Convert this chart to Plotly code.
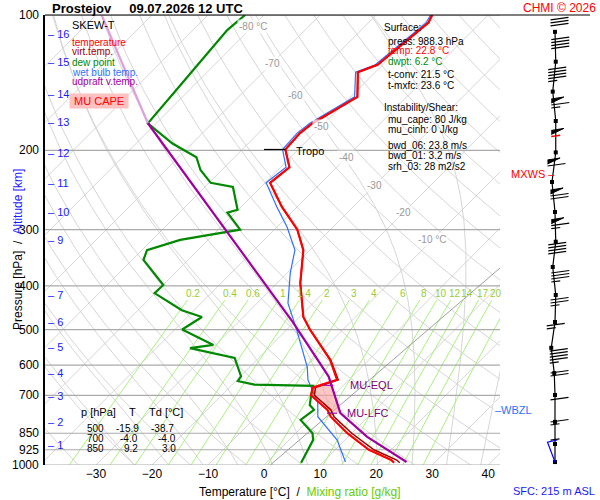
import numpy as np
import plotly.graph_objects as go

# ---------------- data ----------------
temp_p = [100, 104, 129, 134, 152, 165, 174, 183, 199, 218, 236, 267, 300, 333, 394, 469, 500, 584, 647, 673, 700, 754, 781, 850, 925, 975, 988.3]
temp_T = [-50.0, -49.3, -50.9, -53.1, -48.8, -50.8, -52.1, -52.6, -52.3, -48.4, -49.1, -42.7, -35.9, -31.2, -25.9, -19.3, -15.9, -6.9, -2.1, -5.1, -4.0, 1.5, 3.3, 9.2, 16.0, 21.8, 22.8]
virt_T = [-50.0, -49.3, -50.9, -53.1, -48.8, -50.8, -52.1, -52.6, -52.3, -48.4, -49.1, -42.7, -35.9, -31.2, -25.9, -19.3, -15.9, -6.8, -1.9, -4.6, -3.4, 2.1, 3.9, 10.0, 16.9, 22.8, 23.8]
dew_p = [100, 108, 142, 174, 193, 207, 221, 236, 241, 271, 275, 300, 316, 333, 350, 398, 415, 453, 469, 500, 541, 550, 578, 635, 651, 663, 667, 700, 736, 754, 794, 850, 880, 988.3]
dew_T = [-83.4, -83.9, -82.5, -81.5, -73.5, -66.8, -63.8, -59.7, -55.0, -50.1, -51.4, -46.1, -55.0, -59.1, -58.0, -50.0, -50.1, -42.2, -37.4, -38.7, -30.4, -34.0, -24.3, -19.9, -19.6, -16.0, -5.3, -4.0, -2.5, -0.9, -1.5, 3.0, 4.3, 6.2]
wet_p = [100, 104, 129, 134, 152, 165, 174, 183, 199, 218, 236, 267, 296, 333, 374, 437, 502, 606, 647, 727, 781, 880, 985]
wet_T = [-50.3, -49.7, -51.3, -53.5, -49.3, -51.3, -52.6, -53.1, -52.8, -49.0, -49.8, -43.6, -38.2, -32.7, -29.5, -24.5, -18.1, -9.7, -7.3, -1.5, 1.0, 8.6, 14.0]
parcel_p = [100, 174, 245, 333, 482, 636, 767, 866, 985]
parcel_T = [-109.0, -81.5, -60.9, -42.5, -20.2, -4.2, 4.4, 13.4, 24.9]
cape_p = [665, 700, 740, 767, 754, 720, 700, 680, 665]
cape_T = [-2.3, 0.1, 2.7, 4.4, 1.5, -1.0, -4.0, -4.8, -4.0]
ref_X = [1.1, 42.1]
ref_p = [1000, 365]

isobars = [100, 200, 300, 400, 500, 600, 700, 850, 925, 1000]
iso_label_T = [-80, -70, -60, -50, -40, -30, -20, -10]
iso_label_p = [106, 128, 151, 177, 207, 239, 275, 316]
mix_ratios = [0.2, 0.4, 0.6, 1, 1.4, 2, 3, 4, 6, 8, 10, 12, 14, 17, 20, 25]
mix_labels = ["0.2", "0.4", "0.6", "1", "1.4", "2", "3", "4", "6", "8", "10", "12", "14", "17", "20", "25"]
alt_km = [1, 2, 3, 4, 5, 6, 7, 8, 9, 10, 11, 12, 13, 14, 15, 16]
alt_p = [903, 802, 703, 625, 547, 481, 419, 363, 316, 274, 236, 203, 173, 150, 127, 110]
xticks = [-30, -20, -10, 0, 10, 20, 30, 40]

wind_p = [109, 127, 148, 172, 202, 235, 274, 319, 363, 419, 481, 549, 625, 699, 802, 898, 985]
wind_spd = [30, 40, 45, 65, 55, 60, 70, 65, 40, 35, 25, 15, 45, 20, 10, 15, 5]
wind_pos = [0.40, 0.41, 0.37, 0.41, 0.41, 0.36, 0.40, 0.41, 0.37, 0.41, 0.40, 0.35, 0.39, 0.40, 0.40, 0.40, 0.40]

SKEW = 80.0


def X(T, p):
    return np.asarray(T, float) + SKEW * np.log10(1000.0 / np.asarray(p, float))


W, H = 600, 500
L, R, T_, B = 45, 0, 15, 35
PW, PH = W - L - R, H - T_ - B


def px(x):
    return (x - L) / PW


def py(y):
    return (H - B - y) / PH


fig = go.Figure()
LG = "#d6d6d6"

# isotherms
segx, segy = [], []
for t in range(-130, 50, 10):
    pp = np.array([100, 1050])
    segx += list(X(t, pp)) + [None]
    segy += list(pp) + [None]
fig.add_trace(go.Scatter(x=segx, y=segy, mode="lines", line=dict(color=LG, width=1), hoverinfo="skip"))

# dry adiabats
pp = np.logspace(2, np.log10(1050), 60)
segx, segy = [], []
for th in range(230, 480, 10):
    tt = th * (pp / 1000.0) ** 0.2857 - 273.15
    segx += list(X(tt, pp)) + [None]
    segy += list(pp) + [None]
fig.add_trace(go.Scatter(x=segx, y=segy, mode="lines", line=dict(color=LG, width=1), hoverinfo="skip"))


def es(tc):
    return 6.112 * np.exp(17.67 * tc / (tc + 243.5))


# moist adiabats
segx, segy = [], []
for t0 in range(-20, 44, 6):
    ps = np.linspace(1050, 100, 200)
    tk = t0 + 273.15
    out = []
    for i, p in enumerate(ps):
        out.append(tk - 273.15)
        if i + 1 < len(ps):
            rs = 0.622 * es(tk - 273.15) / (p - es(tk - 273.15))
            num = 287.0 * tk + 2.5e6 * rs
            den = 1004.0 + 2.5e6 ** 2 * rs * 0.622 / (287.0 * tk * tk)
            tk += num / den / p * (ps[i + 1] - p)
    segx += list(X(out, ps)) + [None]
    segy += list(ps) + [None]
fig.add_trace(go.Scatter(x=segx, y=segy, mode="lines", line=dict(color=LG, width=1), hoverinfo="skip"))

# mixing ratio lines
segx, segy = [], []
pp = np.linspace(1050, 430, 30)
for w in mix_ratios:
    e = w * pp / (622.0 + w)
    ln = np.log(e / 6.112)
    td = 243.5 * ln / (17.67 - ln)
    segx += list(X(td, pp)) + [None]
    segy += list(pp) + [None]
fig.add_trace(go.Scatter(x=segx, y=segy, mode="lines", line=dict(color="#aaf080", width=1), hoverinfo="skip"))

# isobars
segx, segy = [], []
for p in isobars:
    segx += [-60, 60, None]
    segy += [p, p, None]
fig.add_trace(go.Scatter(x=segx, y=segy, mode="lines", line=dict(color="#aaaaaa", width=1.2), hoverinfo="skip"))

fig.add_trace(go.Scatter(x=ref_X, y=ref_p, mode="lines", line=dict(color="#888888", width=0.8), hoverinfo="skip"))

# CAPE
fig.add_trace(go.Scatter(x=X(cape_T, cape_p), y=cape_p, mode="lines", fill="toself",
                         fillcolor="rgba(255,160,160,0.6)", line=dict(width=0), hoverinfo="skip"))

# profiles
fig.add_trace(go.Scatter(x=X(wet_T, wet_p), y=wet_p, mode="lines", line=dict(color="#3070ff", width=1.2)))
fig.add_trace(go.Scatter(x=X(dew_T, dew_p), y=dew_p, mode="lines", line=dict(color="#008800", width=2.2)))
fig.add_trace(go.Scatter(x=X(virt_T, temp_p), y=temp_p, mode="lines", line=dict(color="#a00000", width=1.5)))
fig.add_trace(go.Scatter(x=X(temp_T, temp_p), y=temp_p, mode="lines", line=dict(color="#ff0000", width=2.2)))
fig.add_trace(go.Scatter(x=X(parcel_T[:2], parcel_p[:2]), y=parcel_p[:2], mode="lines", line=dict(color="#dda0dd", width=2.2)))
fig.add_trace(go.Scatter(x=X(parcel_T[1:], parcel_p[1:]), y=parcel_p[1:], mode="lines", line=dict(color="#a000a0", width=2.2)))

# tropopause / EQL / LFC markers
fig.add_trace(go.Scatter(x=X([-52.3 - 3.8, -52.3], [199, 199]), y=[199, 199], mode="lines", line=dict(color="black", width=1.2)))
fig.add_trace(go.Scatter(x=X([-3.5, -1.8], [665, 665]), y=[665, 665], mode="lines", line=dict(color="#a000a0", width=1.2)))
fig.add_trace(go.Scatter(x=X([2.0, 3.8], [767, 767]), y=[767, 767], mode="lines", line=dict(color="#a000a0", width=1.2)))

# ---------------- wind column ----------------
fig.add_trace(go.Scatter(x=wind_pos, y=wind_p, xaxis="x2", yaxis="y", mode="lines+markers",
                         line=dict(color="black", width=1.2),
                         marker=dict(symbol="square", size=4, color="black"), hoverinfo="skip"))
bx, by, fx, fy = [], [], [], []
rbx, rby = [], []
BL = 0.24
for i, (p, s, xp) in enumerate(zip(wind_p, wind_spd, wind_pos)):
    off = -22 if i > 0 else -12
    base_x = xp - 0.06

    def P(dpx):
        return p * 10 ** (dpx / 450.0)
    n50, rem = divmod(int(s), 50)
    n10, rem = divmod(rem, 10)
    n5 = rem // 5
    o = off
    tgt_x, tgt_y = (rbx, rby) if i == 4 else (bx, by)
    for _ in range(n50):
        fx += [base_x, base_x + BL * 0.7, base_x, None]
        fy += [P(o), P(o - 2), P(o + 4), None]
        o += 6
    for _ in range(n10):
        tgt_x += [base_x, base_x + BL, None]
        tgt_y += [P(o), P(o - 2.5), None]
        o += 3
    for _ in range(n5):
        tgt_x += [base_x, base_x + BL / 2, None]
        tgt_y += [P(o), P(o - 1.2), None]
fig.add_trace(go.Scatter(x=bx, y=by, xaxis="x2", mode="lines", line=dict(color="black", width=1.2), hoverinfo="skip"))
fig.add_trace(go.Scatter(x=rbx, y=rby, xaxis="x2", mode="lines", line=dict(color="red", width=1.5), hoverinfo="skip"))
fig.add_trace(go.Scatter(x=fx, y=fy, xaxis="x2", mode="lines", fill="toself", fillcolor="black",
                         line=dict(color="black", width=1), hoverinfo="skip"))
fig.add_trace(go.Scatter(x=[wind_pos[-1], wind_pos[-2] - 0.1, wind_pos[-2] + 0.03], y=[985, 890, 880], xaxis="x2",
                         mode="lines", line=dict(color="blue", width=1.2), hoverinfo="skip"))

# ---------------- annotations ----------------
ann = []
FONT = "Liberation Sans, Arial, sans-serif"


def A(x, y, text, color="black", size=11, xanchor="left", xref="paper", yref="paper", **kw):
    ann.append(dict(x=x, y=y, text=text, xref=xref, yref=yref, showarrow=False,
                    font=dict(color=color, size=size, family=FONT), xanchor=xanchor, yanchor="middle", **kw))


for t, p in zip(iso_label_T, iso_label_p):
    lab = f"{t} °C" if t in (-80, -10) else f"{t}"
    A(float(X(t, p)), np.log10(p), lab, color="#999999", size=10, xanchor="center", xref="x", yref="y",
      bgcolor="rgba(255,255,255,0.7)")
for w, lab in zip(mix_ratios, mix_labels):
    e = w * 415 / (622.0 + w)
    ln = np.log(e / 6.112)
    td = 243.5 * ln / (17.67 - ln)
    A(float(X(td, 415)), np.log10(415), lab, color="#99cc33", size=10, xanchor="center", xref="x", yref="y")
for k, p in zip(alt_km, alt_p):
    if k == 8:
        continue
    A(px(46), np.log10(p), f"– {k}", color="#1a1aff", size=11, yref="y")
for p in isobars:
    A(px(41), np.log10(p), str(p), size=12, xanchor="right", yref="y")

A(px(50), py(8), "<b>Prostejov     09.07.2026 12 UTC</b>", size=13)
A(px(598), py(8), "CHMI © 2026", color="red", size=12, xanchor="right")
A(px(300), py(492), "Temperature [°C]  /  <span style='color:#66cc00'>Mixing ratio [g/kg]</span>", size=12, xanchor="center")
ann.append(dict(x=px(9), y=py(250), xref="paper", yref="paper", showarrow=False, textangle=-90,
                text="Pressure [hPa]  /  <span style='color:#1a1aff'>Altitude [km]</span>",
                font=dict(size=12, family=FONT, color="black")))
A(px(597), py(491), "SFC: 215 m ASL", color="#1a1aff", size=11, xanchor="right")

# legend
leg = [("SKEW-T", "black", 25), ("temperature", "red", 42), ("virt.temp.", "#a00000", 52),
       ("dew point", "#008800", 62), ("wet bulb temp.", "#3070ff", 72), ("udpraft v.temp.", "#a000a0", 82)]
for t, c, y in leg:
    A(px(70), py(y), t, color=c, size=11 if t == "SKEW-T" else 10)
A(px(69), py(101), " MU CAPE ", color="red", size=11, bgcolor="#ffc0c0")

# surface box
surf = [("Surface:", "black", 28, 382), ("press: 988.3 hPa", "black", 41, 386), ("temp: 22.8 °C", "red", 51, 386),
        ("dwpt: 6.2 °C", "#008800", 61, 386), ("t-conv: 21.5 °C", "black", 75, 386), ("t-mxfc: 23.6 °C", "black", 85, 386),
        ("Instability/Shear:", "black", 107, 382), ("mu_cape: 80 J/kg", "black", 119, 386), ("mu_cinh: 0 J/kg", "black", 129, 386),
        ("bwd_06: 23.8 m/s", "black", 145, 386), ("bwd_01: 3.2 m/s", "black", 155, 386), ("srh_03: 28 m2/s2", "black", 166, 386)]
for t, c, y, x in surf:
    A(px(x), py(y), t, color=c, size=10)

# table
tab = [("p [hPa]", 79, 412), ("T", 127, 412), ("Td [°C]", 147, 412),
       ("500", 85, 428), ("-15.9", 114, 428), ("-38.7", 149, 428),
       ("700", 85, 438), ("-4.0", 118, 438), ("-4.0", 156, 438),
       ("850", 85, 448), ("9.2", 122, 448), ("3.0", 160, 448)]
for t, x, y in tab:
    A(px(x), py(y), t, size=10 if y > 420 else 11)

A(px(294), py(151), "Tropo", size=11)
A(px(348), py(385), "MU-EQL", color="#800080", size=11)
A(px(345), py(413), "MU-LFC", color="#800080", size=11)
A(px(509), py(174), "MXWS –", color="red", size=11)
A(px(493), py(410), "–WBZL ", color="#3070ff", size=11, bgcolor="white")

shapes = [
    dict(type="rect", xref="paper", yref="paper", x0=px(63), x1=px(140), y0=py(110), y1=py(17),
         fillcolor="white", line=dict(width=0), layer="below"),
    dict(type="rect", xref="paper", yref="paper", x0=px(379), x1=px(472), y0=py(172), y1=py(20),
         fillcolor="white", line=dict(width=0), layer="below"),
    dict(type="rect", xref="paper", yref="paper", x0=px(76), x1=px(180), y0=py(456), y1=py(402),
         fillcolor="white", line=dict(width=0), layer="below"),
    dict(type="line", xref="paper", yref="paper", x0=px(45), x1=px(590), y0=py(15), y1=py(15),
         line=dict(color="black", width=1.2)),
]

fig.update_layout(
    width=W, height=H, margin=dict(l=L, r=R, t=T_, b=B),
    paper_bgcolor="white", plot_bgcolor="white", showlegend=False,
    xaxis=dict(domain=[0, 455 / PW], range=[-39.1, 42.1], tickvals=xticks, showgrid=False, zeroline=False,
               ticks="", tickfont=dict(size=12, family=FONT, color="black"), showline=False),
    xaxis2=dict(domain=[(525 - L) / PW, 1], range=[0, 1], visible=False, anchor="y"),
    yaxis=dict(type="log", range=[3, 2], showgrid=False, zeroline=False, showticklabels=False,
               showline=True, linecolor="black", linewidth=1.5, ticks=""),
    annotations=ann, shapes=shapes,
    font=dict(family=FONT),
)
fig.write_html("out.html", config={"displayModeBar": False},
               post_script="document.body.style.margin='0px';")
